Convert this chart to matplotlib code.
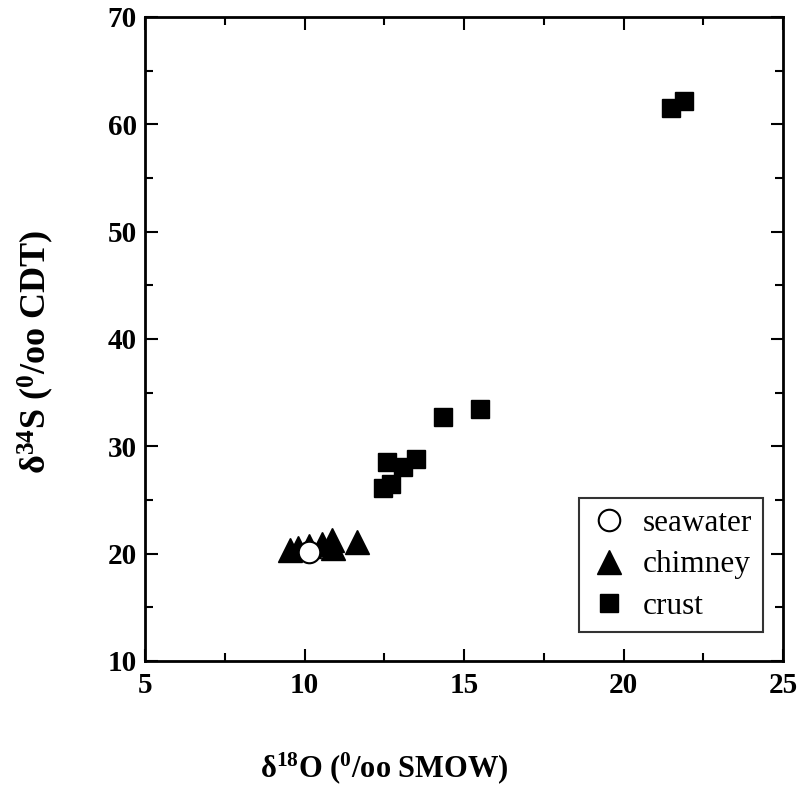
import matplotlib
matplotlib.use("Agg")
import matplotlib.pyplot as plt
from matplotlib.ticker import MultipleLocator

plt.rcParams['font.family'] = ['Liberation Serif', 'DejaVu Serif']
plt.rcParams['mathtext.default'] = 'regular'

# seawater
sw_x = [10.15]
sw_y = [20.1]

# chimney
ch_x = [9.55, 9.8, 10.15, 10.55, 10.85, 10.9, 11.65]
ch_y = [20.3, 20.55, 20.7, 20.9, 21.3, 20.5, 21.1]

# crust
cr_x = [12.6, 13.5, 13.1, 12.45, 12.7, 14.35, 15.5, 21.5, 21.9]
cr_y = [28.5, 28.8, 28.1, 26.1, 26.5, 32.7, 33.5, 61.5, 62.2]

fig = plt.figure(figsize=(7.99, 8.05), dpi=100)
ax = fig.add_axes([0.1815, 0.179, 0.7985, 0.8])

ax.plot(cr_x, cr_y, 's', color='black', ms=13.5, label='crust', zorder=3)
ax.plot(ch_x, ch_y, '^', color='black', ms=17, label='chimney', zorder=3)
ax.plot(sw_x, sw_y, 'o', mfc='white', mec='black', mew=1.5, ms=15.5,
        label='seawater', zorder=4)

ax.set_xlim(5, 25)
ax.set_ylim(10, 70)
ax.xaxis.set_major_locator(MultipleLocator(5))
ax.xaxis.set_minor_locator(MultipleLocator(2.5))
ax.yaxis.set_major_locator(MultipleLocator(10))
ax.yaxis.set_minor_locator(MultipleLocator(5))
ax.tick_params(which='both', direction='in', top=True, right=True, width=1.5)
ax.tick_params(which='major', length=9, labelsize=21)
ax.tick_params(axis='x', which='major', pad=8)
ax.tick_params(axis='y', which='major', pad=6)
ax.tick_params(which='minor', length=6)
for lab in ax.get_xticklabels() + ax.get_yticklabels():
    lab.set_fontweight('bold')
for s in ax.spines.values():
    s.set_linewidth(2)

ax.set_xlabel(r'δ$^{18}$O ($^{0}$/oo SMOW)', fontsize=22, fontweight='bold')
ax.xaxis.set_label_coords(0.376, -0.138)
ax.set_ylabel(r'δ$^{34}$S ($^{0}$/oo CDT)', fontsize=26, fontweight='bold')
ax.yaxis.set_label_coords(-0.139, 0.48)

handles, labels = ax.get_legend_handles_labels()
order = [2, 1, 0]
leg = ax.legend([handles[i] for i in order], [labels[i] for i in order],
                loc='lower right', bbox_to_anchor=(0.969, 0.045), fontsize=22.5,
                borderaxespad=0, frameon=True, fancybox=False, edgecolor='black',
                handletextpad=0.5, borderpad=0.35, labelspacing=0.4,
                handlelength=1.2)
leg.get_frame().set_linewidth(1.5)

fig.savefig('out.png', dpi=100)
